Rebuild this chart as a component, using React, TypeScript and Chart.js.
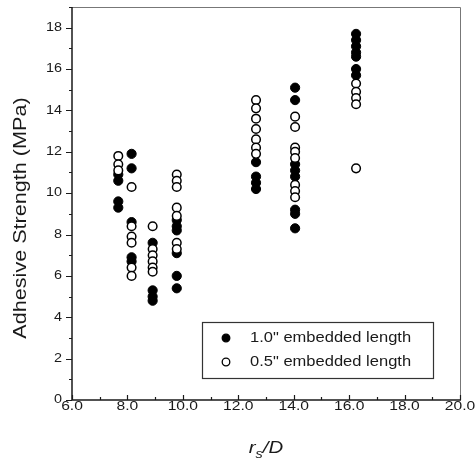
import React, { useEffect, useRef } from "react";
import { Chart, registerables } from "chart.js";

Chart.register(...registerables);

// r_s/D position of each specimen group
const rsOverD = [7.67, 8.15, 8.91, 9.78, 12.64, 14.05, 16.25];

// Adhesive strength (MPa), 1.0" embedded length, per group
const strength10 = [
  [10.9, 10.6, 9.6, 9.3],
  [11.9, 11.2, 8.6, 6.9, 6.7],
  [7.6, 5.3, 5.0, 4.8],
  [8.7, 8.4, 8.2, 7.1, 6.0, 5.4],
  [11.5, 10.8, 10.5, 10.2],
  [15.1, 14.5, 11.4, 11.1, 10.8, 9.2, 9.0, 8.3],
  [17.7, 17.4, 17.1, 16.8, 16.6, 16.0, 15.7],
];

// Adhesive strength (MPa), 0.5" embedded length, per group
const strength05 = [
  [11.8, 11.4, 11.1],
  [10.3, 8.4, 7.9, 7.6, 6.4, 6.0],
  [8.4, 7.3, 7.0, 6.7, 6.4, 6.2],
  [10.9, 10.6, 10.3, 9.3, 8.9, 7.6, 7.3],
  [14.5, 14.1, 13.6, 13.1, 12.6, 12.2, 11.9],
  [13.7, 13.2, 12.2, 12.0, 11.7, 10.4, 10.1, 9.8],
  [15.3, 14.9, 14.6, 14.3, 11.2],
];

const seriesLabels = ['1.0" embedded length', '0.5" embedded length'];
const xTickLabels = ["6.0", "8.0", "10.0", "12.0", "14.0", "16.0", "18.0", "20.0"];
const yTickLabels = ["0", "2", "4", "6", "8", "10", "12", "14", "16", "18"];
const yTitle = "Adhesive Strength (MPa)";

const X_MIN = 6, X_MAX = 20, Y_MIN = 0, Y_MAX = 19;
const FONT = "'Liberation Sans', Arial, sans-serif";
const INK = "#1a1a1a";

function toPoints(groups: number[][]) {
  return groups.flatMap((vals, i) => vals.map((v) => ({ x: rsOverD[i], y: v })));
}

function stretchText(ctx: CanvasRenderingContext2D, text: string, x: number, y: number, align: CanvasTextAlign, sx: number) {
  ctx.save();
  ctx.translate(x, y);
  ctx.scale(sx, 1);
  ctx.textAlign = align;
  ctx.fillText(text, 0, 0);
  ctx.restore();
}

const decor = {
  id: "decor",
  afterDraw(chart: any) {
    const ctx: CanvasRenderingContext2D = chart.ctx;
    const a = chart.chartArea;
    const xs = chart.scales.x;
    const ys = chart.scales.y;
    ctx.save();

    // faint frame top/right
    ctx.strokeStyle = "#777";
    ctx.lineWidth = 1;
    ctx.beginPath();
    ctx.moveTo(a.left, a.top + 0.5);
    ctx.lineTo(a.right + 0.5, a.top + 0.5);
    ctx.lineTo(a.right + 0.5, a.bottom);
    ctx.stroke();

    // axes
    ctx.strokeStyle = INK;
    ctx.lineWidth = 1.5;
    ctx.beginPath();
    ctx.moveTo(a.left, a.top);
    ctx.lineTo(a.left, a.bottom);
    ctx.lineTo(a.right + 1, a.bottom);
    ctx.stroke();

    // ticks
    ctx.lineWidth = 1.2;
    ctx.beginPath();
    for (let v = Y_MIN; v <= Y_MAX; v++) {
      const py = Math.round(ys.getPixelForValue(v)) + 0.5;
      const len = v % 2 === 0 ? 6 : 3;
      ctx.moveTo(a.left - len, py);
      ctx.lineTo(a.left, py);
    }
    for (let v = X_MIN; v <= X_MAX; v++) {
      const px = Math.round(xs.getPixelForValue(v)) + 0.5;
      const len = v % 2 === 0 ? 5 : 3;
      ctx.moveTo(px, a.bottom);
      ctx.lineTo(px, a.bottom - len);
    }
    ctx.stroke();

    // tick labels
    ctx.fillStyle = INK;
    ctx.textBaseline = "middle";
    ctx.font = `12px ${FONT}`;
    yTickLabels.forEach((t) => {
      const py = ys.getPixelForValue(parseFloat(t));
      stretchText(ctx, t, a.left - 10, py, "right", 1.2);
    });
    ctx.font = `12.5px ${FONT}`;
    xTickLabels.forEach((t) => {
      const px = xs.getPixelForValue(parseFloat(t));
      stretchText(ctx, t, px, a.bottom + 7, "center", 1.25);
    });

    // y title
    ctx.save();
    ctx.font = `18px ${FONT}`;
    ctx.translate(21, 218);
    ctx.rotate(-Math.PI / 2);
    stretchText(ctx, yTitle, 0, 0, "center", 1.2);
    ctx.restore();

    // x title: r_s/D
    ctx.save();
    const bigFont = `italic 17px ${FONT}`;
    const smallFont = `italic 12px ${FONT}`;
    ctx.font = bigFont;
    const wr = ctx.measureText("r").width;
    const wd = ctx.measureText("/D").width;
    ctx.font = smallFont;
    const ws = ctx.measureText("s").width;
    const sx = 1.2;
    const total = (wr + ws + wd) * sx;
    const cx = (a.left + a.right) / 2;
    const base = 453;
    ctx.textBaseline = "alphabetic";
    ctx.translate(cx - total / 2, base);
    ctx.scale(sx, 1);
    ctx.textAlign = "left";
    ctx.font = bigFont;
    ctx.fillText("r", 0, 0);
    ctx.font = smallFont;
    ctx.fillText("s", wr, 5);
    ctx.font = bigFont;
    ctx.fillText("/D", wr + ws, 0);
    ctx.restore();

    // legend
    const lx = 202, ly = 322, lw = 231, lh = 56;
    ctx.strokeStyle = "#333";
    ctx.lineWidth = 1.2;
    ctx.strokeRect(lx + 0.5, ly + 0.5, lw, lh);
    const rows = [ly + 16, ly + 40];
    chart.data.datasets.forEach((ds: any, i: number) => {
      const cy = rows[i];
      ctx.beginPath();
      ctx.arc(lx + 24, cy, 3.8, 0, Math.PI * 2);
      ctx.fillStyle = ds.pointBackgroundColor;
      ctx.fill();
      ctx.strokeStyle = "#000";
      ctx.lineWidth = 1.3;
      ctx.stroke();
      ctx.fillStyle = INK;
      ctx.font = `14px ${FONT}`;
      ctx.textBaseline = "middle";
      stretchText(ctx, ds.label, lx + 48, cy, "left", 1.18);
    });

    ctx.restore();
  },
};

export default function App() {
  const ref = useRef<HTMLCanvasElement | null>(null);
  useEffect(() => {
    document.body.style.margin = "0";
    const canvas = ref.current;
    if (!canvas) return;
    const chart = new Chart(canvas, {
      type: "scatter",
      data: {
        datasets: [
          {
            label: seriesLabels[0],
            data: toPoints(strength10),
            pointRadius: 4.6,
            pointBackgroundColor: "#000",
            pointBorderColor: "#000",
            pointBorderWidth: 1,
            order: 2,
          },
          {
            label: seriesLabels[1],
            data: toPoints(strength05),
            pointRadius: 4.3,
            pointBackgroundColor: "#fff",
            pointBorderColor: "#000",
            pointBorderWidth: 1.5,
            order: 1,
          },
        ],
      },
      options: {
        responsive: false,
        animation: false,
        devicePixelRatio: 1,
        layout: { padding: { top: 7, right: 15, left: 0, bottom: 0 } },
        plugins: { legend: { display: false }, tooltip: { enabled: false } },
        scales: {
          x: {
            type: "linear",
            min: X_MIN,
            max: X_MAX,
            grid: { display: false },
            border: { display: false },
            ticks: { display: false, stepSize: 2 },
            afterFit: (s: any) => { s.height = 62; },
          },
          y: {
            type: "linear",
            min: Y_MIN,
            max: Y_MAX,
            grid: { display: false },
            border: { display: false },
            ticks: { display: false, stepSize: 2 },
            afterFit: (s: any) => { s.width = 72; },
          },
        },
      },
      plugins: [decor],
    });
    return () => chart.destroy();
  }, []);
  return (
    <div style={{ width: 475, height: 462 }}>
      <canvas ref={ref} width={475} height={462} style={{ display: "block" }} />
    </div>
  );
}
